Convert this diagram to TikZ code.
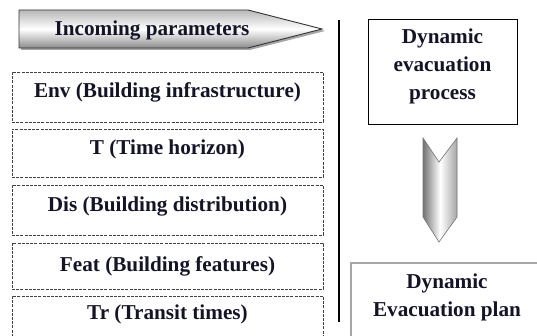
\documentclass[tikz,border=0pt]{standalone}
\usepackage{fontspec}
\setmainfont{Liberation Serif}
\usetikzlibrary{shadows}
\definecolor{ink}{rgb}{0.08,0.08,0.16}
\tikzset{
  lbl/.style={font=\fontsize{21.2}{28}\selectfont\bfseries, text=ink, align=center, inner sep=0pt},
  parambox/.style={draw=black!75, line width=0.9pt, dash pattern=on 3pt off 1.2pt,
    minimum width=311pt, inner sep=0pt},
  stagebox/.style={draw=black, line width=0.9pt, fill=white, inner sep=0pt},
}
\begin{document}
\begin{tikzpicture}[x=1pt,y=-1pt]
\useasboundingbox (0,0) rectangle (537,336);
\clip (0,0) rectangle (537,336);

% banner arrow at the top of the parameter column
\fill[black!35] (21,12) -- (250,12) -- (325,31) -- (250,50) -- (21,50) -- cycle;
\shade[top color=black!28, bottom color=black!45, middle color=white, draw=black!80, line width=0.9pt]
  (19,10) -- (248,10) -- (322,29) -- (248,48) -- (19,48) -- cycle;
\node[lbl] (inc) at (152,30) {Incoming parameters};

% separator between the two columns
\draw[line width=1.2pt] (339,20) -- (339,322);

% input parameters
\node[parambox, minimum height=50pt] (env)  at (167.5,97)  {};
\node[parambox, minimum height=48pt] (hor)  at (167.5,153) {};
\node[parambox, minimum height=50pt] (dis)  at (167.5,210) {};
\node[parambox, minimum height=46pt] (feat) at (167.5,266) {};
\node[parambox, minimum height=50pt] (tr)   at (167.5,321) {};
\node[lbl] at (167.5,92)  {Env (Building infrastructure)};
\node[lbl] at (167.5,149) {T (Time horizon)};
\node[lbl] at (167.5,206) {Dis (Building distribution)};
\node[lbl] at (167.5,266) {Feat (Building features)};
\node[lbl] at (167.5,314) {Tr (Transit times)};

% process stage
\node[stagebox, minimum width=149pt, minimum height=105pt,
  drop shadow={shadow xshift=1.2pt, shadow yshift=-1.2pt, fill=black!30}] (proc) at (442.5,71.5) {};
\node[lbl] at (442.5,66) {Dynamic\\evacuation\\process};

% chevron arrow pointing down
\shade[left color=black!55, right color=black!35, middle color=white, draw=black!55, line width=0.6pt]
  (423,138) -- (439,162) -- (457,138) -- (457,217) -- (439,242) -- (423,217) -- cycle;

% resulting plan
\node[draw=black!35, line width=1.6pt, fill=white, minimum width=210pt, minimum height=100pt,
  inner sep=0pt] (plan) at (456,313) {};
\node[lbl] at (447,297) {Dynamic\\Evacuation plan};
\end{tikzpicture}
\end{document}
